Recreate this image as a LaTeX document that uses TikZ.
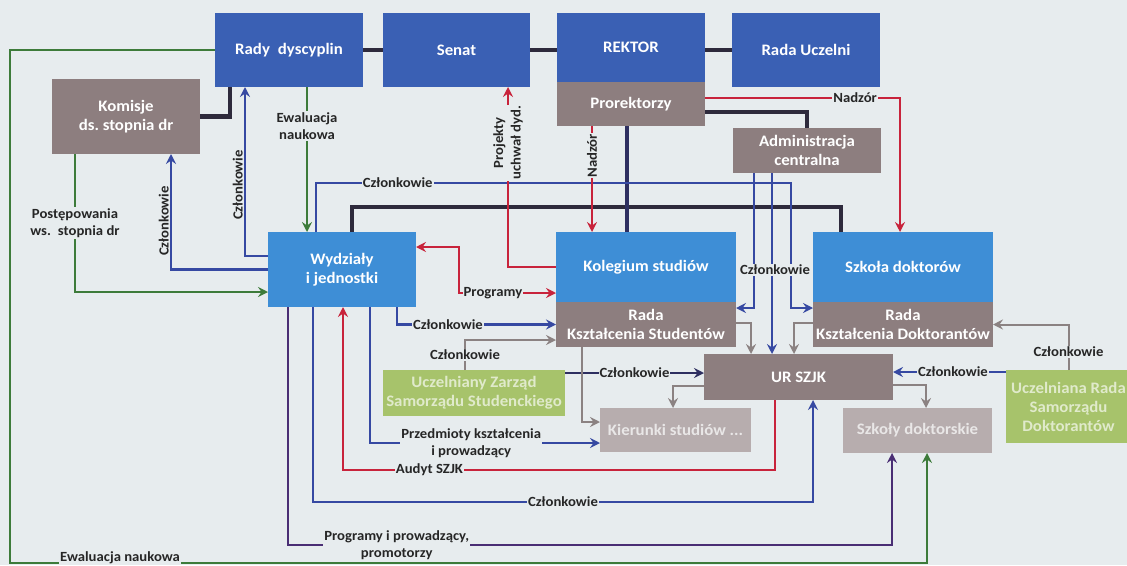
\documentclass[tikz,border=0pt]{standalone}
\usepackage{fontspec}
\setmainfont[FakeStretch=1.05]{Carlito}
\usetikzlibrary{arrows.meta}
\definecolor{bgc}{HTML}{E7ECEE}
\definecolor{darkbox}{HTML}{3A60B4}
\definecolor{lightbox}{HTML}{3E8ED6}
\definecolor{graybox}{HTML}{8D7E7F}
\definecolor{palebox}{HTML}{B7ADAE}
\definecolor{greenbox}{HTML}{A7C36B}
\definecolor{barline}{HTML}{2E2A3C}
\definecolor{navyline}{HTML}{2E2F60}
\definecolor{blueline}{HTML}{3649A2}
\definecolor{redline}{HTML}{C8233B}
\definecolor{greenline}{HTML}{3D7B3A}
\definecolor{purpline}{HTML}{4A2E74}
\definecolor{grayline}{HTML}{8B8282}

\tikzset{
  box/.style={anchor=north west, inner sep=0pt, outer sep=0pt, align=center, text=white,
    font=\fontsize{16}{19}\selectfont\bfseries},
  lbl/.style={fill=bgc, inner sep=1pt, align=center, text=black!85,
    font=\fontsize{14}{17.5}\selectfont\bfseries},
  bar/.style={line width=4.5pt, barline},
  conn/.style={line width=2.4pt, ->},
  gconn/.style={line width=2pt, grayline, ->}
}

\begin{document}
\begin{tikzpicture}[x=1pt, y=-1pt, >={Stealth[length=10pt,width=10pt,inset=3.5pt]}]
\fill[bgc] (0,0) rectangle (1127,565);
\useasboundingbox (0,0) rectangle (1127,565);

% boxes
\node[box, fill=darkbox, minimum width=148pt, minimum height=74pt] (rady) at (215,13) {Rady\enspace dyscyplin};
\node[box, fill=darkbox, minimum width=147pt, minimum height=74pt] (senat) at (383,13) {Senat};
\node[box, fill=darkbox, minimum width=148pt, minimum height=69pt] (rektor) at (557,13) {REKTOR};
\node[box, fill=graybox, minimum width=148pt, minimum height=44pt] (prorekt) at (557,82) {Prorektorzy};
\node[box, fill=darkbox, minimum width=148pt, minimum height=74pt] (radau) at (732,13) {Rada Uczelni};
\node[box, fill=graybox, minimum width=148pt, minimum height=75pt] (komisje) at (52,79) {Komisje\\ds.\ stopnia dr};
\node[box, fill=graybox, minimum width=148pt, minimum height=45pt] (admin) at (733,128) {Administracja\\centralna};
\node[box, fill=lightbox, minimum width=148pt, minimum height=75pt] (wydz) at (268,232) {Wydziały\\i jednostki};
\node[box, fill=lightbox, minimum width=180pt, minimum height=70pt] (kol) at (556,232) {Kolegium studiów};
\node[box, fill=graybox, minimum width=180pt, minimum height=45pt] (rks) at (556,302) {Rada\\Kształcenia Studentów};
\node[box, fill=lightbox, minimum width=180pt, minimum height=70pt] (szd) at (813,232) {Szkoła doktorów};
\node[box, fill=graybox, minimum width=180pt, minimum height=45pt] (rkd) at (813,302) {Rada\\Kształcenia Doktorantów};
\node[box, fill=graybox, minimum width=189pt, minimum height=46pt] (ursz) at (704,354) {UR SZJK};
\node[box, fill=palebox, text=white!70!palebox, minimum width=149pt, minimum height=45pt] (szkoly) at (843,408) {Szkoły doktorskie};
\node[box, fill=palebox, text=white!70!palebox, minimum width=151pt, minimum height=44pt] (kier) at (600,408) {Kierunki studiów ...};
\node[box, fill=greenbox, text=white!65!greenbox, minimum width=182pt, minimum height=46pt] (uzss) at (383,370) {Uczelniany Zarząd\\Samorządu Studenckiego};
\node[box, fill=greenbox, text=white!65!greenbox, minimum width=125pt, minimum height=73pt] (ursd) at (1006,370) {Uczelniana Rada\\Samorządu\\Doktorantów};

% black links
\draw[bar] (rady.east) -- (senat.west);
\draw[bar] (senat.east) -- (senat.east -| rektor.west);
\draw[bar] (senat.east -| rektor.east) -- (radau.west);
\draw[bar] (komisje.east) -| ([xshift=15pt]rady.south west);
\draw[bar] ([yshift=-8pt]prorekt.east) -| (admin.north);
\draw[bar] ([xshift=10pt]wydz.north) -- ++(0,-25) -| ([xshift=-62pt]szd.north);
\draw[bar, navyline] ([xshift=-4pt]prorekt.south) -- ([xshift=-19pt]kol.north);

% green
\draw[conn, greenline] (rady.west) -- ++(-205,0) |- ++(917,513)
  node[lbl, pos=0.56, yshift=5pt] {Ewaluacja naukowa} -- ([xshift=9.5pt]szkoly.south);
\draw[conn, greenline] ([xshift=18pt]rady.south) -- node[lbl, pos=0.27] {Ewaluacja\\naukowa} ([xshift=-35pt]wydz.north);
\draw[conn, greenline] ([xshift=-51pt]komisje.south) |- node[lbl, pos=0.25] {Postępowania\\ws.\enspace stopnia dr} ([yshift=-22.5pt]wydz.west);

% blue
\draw[conn, blueline] (wydz.west) -| node[lbl, pos=0.71, rotate=90, anchor=south] {Członkowie} ([xshift=45pt]komisje.south);
\draw[conn, blueline] ([yshift=13.5pt]wydz.west) -| node[lbl, pos=0.71, rotate=90, anchor=south] {Członkowie} ([xshift=-44pt]rady.south);
\draw[conn, blueline] ([xshift=-26pt]wydz.north) |- ++(475,-49) node[lbl, pos=0.586] {Członkowie} |- ([yshift=16.5pt]rkd.west);
\draw[conn, blueline] ([xshift=-53pt]admin.south) |- ([yshift=16.5pt]rks.east);
\draw[conn, blueline] ([xshift=-35pt]admin.south) -- ([xshift=-26.5pt]ursz.north);
\draw[conn, blueline] ([xshift=55pt]wydz.south) |- node[lbl, pos=0.66] {Członkowie} (rks.west);
\draw[conn, blueline] ([xshift=28pt]wydz.south) |- node[lbl, pos=0.72] {Przedmioty kształcenia\\i prowadzący} ([yshift=-13pt]kier.west);
\draw[conn, blueline] ([xshift=-29pt]wydz.south) |- ++(500,195) node[lbl, pos=0.75] {Członkowie} -- ([xshift=14.5pt]ursz.south);
\draw[conn, purpline] ([xshift=-54pt]wydz.south) |- ++(604,238) node[lbl, pos=0.59] {Programy i prowadzący,\\promotorzy} -- ([xshift=-25.5pt]szkoly.south);
\draw[conn, navyline] ([yshift=20pt]uzss.east) -- node[lbl] {Członkowie} ([yshift=4pt]ursz.west);
\draw[conn, blueline] ([yshift=34.5pt]ursd.west) -- node[lbl, pos=0.47] {Członkowie} ([yshift=5pt]ursz.east);

% red
\draw[conn, redline] (kol.west) -| node[lbl, pos=0.845, rotate=90] {Projekty\\uchwał dyd.} ([xshift=51.5pt]senat.south);
\draw[conn, redline] ([xshift=-39pt]prorekt.south) -- node[lbl, pos=0.28, rotate=90] {Nadzór} ([xshift=-54pt]kol.north);
\draw[conn, redline] ([yshift=6pt]prorekt.east) -| node[lbl, pos=0.385] {Nadzór} ([xshift=-3pt]szd.north);
\draw[conn, redline, <->] ([yshift=22.5pt]wydz.east) -- ++(43,0) |- node[lbl, pos=0.675] {Programy} ([yshift=-26pt]kol.west);
\draw[conn, redline] ([xshift=-23.5pt]ursz.south) -- ++(0,70) -| node[lbl, pos=0.4] {Audyt SZJK} ([xshift=1pt]wydz.south);

% gray
\draw[gconn] ([xshift=-9pt]uzss.north) |- node[lbl, pos=0.25] {Członkowie} ([yshift=-15.5pt]rks.west);
\draw[gconn] ([xshift=-64pt]rks.south) |- ([yshift=8pt]kier.west);
\draw[gconn] ([yshift=-9pt]ursz.west) -| ([xshift=-2.5pt]kier.north);
\draw[gconn] ([yshift=-8pt]ursz.east) -| ([xshift=8.5pt]szkoly.north);
\draw[gconn] ([yshift=2pt]rks.east) -| ([xshift=-47.5pt]ursz.north);
\draw[gconn] ([yshift=2pt]rkd.west) -| ([xshift=-4.5pt]ursz.north);
\draw[gconn] (ursd.north) |- node[lbl, pos=0.2] {Członkowie} (rkd.east);

\node[lbl] (czl) at (775,270) {Członkowie};
\end{tikzpicture}
\end{document}
